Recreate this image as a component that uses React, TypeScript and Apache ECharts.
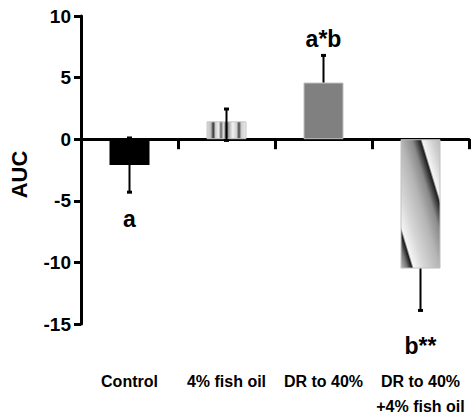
import React, { useEffect, useRef } from "react";
import * as echarts from "echarts";

const categories = ["Control", "4% fish oil", "DR to 40%", "DR to 40%\n+4% fish oil"];
const values = [-2.1, 1.45, 4.6, -10.5];
const errLow = [-4.3, -0.1, 4.6, -13.9];
const errHigh = [0.1, 2.45, 6.8, -10.5];
const annText = ["a", "", "a*b", "b**"];
const annY = [-6.5, 0, 8.15, -16.75];
const yTicks = { min: -15, max: 10, interval: 5 };

const FONT = '"Liberation Sans", Arial, Helvetica, sans-serif';

const fishOilFill = new echarts.graphic.LinearGradient(0, 0, 1, 0, [
  { offset: 0, color: "#dcdcdc" },
  { offset: 0.1, color: "#bdbdbd" },
  { offset: 0.16, color: "#333" },
  { offset: 0.22, color: "#cfcfcf" },
  { offset: 0.3, color: "#efefef" },
  { offset: 0.36, color: "#666" },
  { offset: 0.42, color: "#dedede" },
  { offset: 0.5, color: "#555" },
  { offset: 0.56, color: "#acacac" },
  { offset: 0.66, color: "#f2f2f2" },
  { offset: 0.76, color: "#cfcfcf" },
  { offset: 0.82, color: "#444" },
  { offset: 0.88, color: "#cfcfcf" },
  { offset: 1, color: "#eaeaea" },
]);

const comboFill = new echarts.graphic.LinearGradient(0, 1, 1, 0, [
  { offset: 0, color: "#bbbbbb" },
  { offset: 0.08, color: "#777" },
  { offset: 0.14, color: "#1a1a1a" },
  { offset: 0.165, color: "#f5f5f5" },
  { offset: 0.3, color: "#d6d6d6" },
  { offset: 0.5, color: "#b5b5b5" },
  { offset: 0.64, color: "#8a8a8a" },
  { offset: 0.745, color: "#1e1e1e" },
  { offset: 0.77, color: "#f5f5f5" },
  { offset: 0.9, color: "#d0d0d0" },
  { offset: 1, color: "#bbbbbb" },
]);

const barStyles = [
  { color: "#000000" },
  { color: fishOilFill, borderColor: "#c8c8c8", borderWidth: 1 },
  { color: "#808080", borderColor: "#c0c0c0", borderWidth: 1 },
  { color: comboFill, borderColor: "#c0c0c0", borderWidth: 1 },
];

export default function App() {
  const ref = useRef<HTMLDivElement>(null);
  useEffect(() => {
    document.body.style.margin = "0";
    const chart = echarts.init(ref.current!, null, { renderer: "svg" });
    chart.setOption({
      animation: false,
      backgroundColor: "#ffffff",
      grid: { left: 79, right: 3, top: 16, bottom: 88, containLabel: false },
      xAxis: [
        {
          type: "category",
          data: categories,
          axisLine: { onZero: true, lineStyle: { color: "#000", width: 3 } },
          axisTick: { show: true, length: 10, lineStyle: { color: "#000", width: 3 } },
          axisLabel: { show: false },
        },
        {
          type: "category",
          data: categories,
          position: "bottom",
          axisLine: { show: false, onZero: false },
          axisTick: { show: false },
          axisLabel: {
            show: true,
            margin: 45,
            fontFamily: FONT,
            fontSize: 16,
            fontWeight: "bold",
            color: "#000",
            lineHeight: 25,
            interval: 0,
          },
        },
      ],
      yAxis: {
        type: "value",
        min: yTicks.min,
        max: yTicks.max,
        interval: yTicks.interval,
        name: "AUC",
        nameLocation: "middle",
        nameGap: 51,
        nameRotate: 90,
        nameTextStyle: { fontFamily: FONT, fontSize: 22, fontWeight: "bold", color: "#000", padding: [0, 0, 0, -9] },
        axisLine: { show: true, lineStyle: { color: "#000", width: 3 } },
        axisTick: { show: true, length: 7, lineStyle: { color: "#000", width: 3 } },
        axisLabel: { margin: 10, fontFamily: FONT, fontSize: 19, fontWeight: "bold", color: "#000" },
        splitLine: { show: false },
      },
      series: [
        {
          type: "bar",
          xAxisIndex: 0,
          barWidth: 40,
          data: values.map((v, i) => ({ value: v, itemStyle: barStyles[i] })),
          z: 2,
        },
        {
          type: "custom",
          xAxisIndex: 0,
          z: 5,
          clip: false,
          data: categories.map((_, i) => [i, errLow[i], errHigh[i], values[i], annY[i]]),
          renderItem: (params: any, api: any) => {
            const i = params.dataIndex;
            const lo = api.coord([i, api.value(1)]);
            const hi = api.coord([i, api.value(2)]);
            const bar = api.value(3);
            const children: any[] = [
              {
                type: "line",
                shape: { x1: lo[0], y1: lo[1], x2: hi[0], y2: hi[1] },
                style: { stroke: "#000", lineWidth: 2 },
              },
            ];
            if (api.value(1) !== bar) {
              children.push({ type: "rect", shape: { x: lo[0] - 2.5, y: lo[1] - 1.5, width: 5, height: 3 }, style: { fill: "#000" } });
            }
            if (api.value(2) !== bar) {
              children.push({ type: "rect", shape: { x: hi[0] - 2.5, y: hi[1] - 1.5, width: 5, height: 3 }, style: { fill: "#000" } });
            }
            if (annText[i]) {
              const p = api.coord([i, api.value(4)]);
              children.push({
                type: "text",
                x: p[0],
                y: p[1],
                style: {
                  text: annText[i],
                  fontFamily: FONT,
                  fontSize: 23,
                  fontWeight: "bold",
                  fill: "#000",
                  align: "center",
                  verticalAlign: "middle",
                },
              });
            }
            return { type: "group", children };
          },
        },
      ],
    });
    return () => chart.dispose();
  }, []);
  return <div ref={ref} style={{ width: 472, height: 419 }} />;
}
